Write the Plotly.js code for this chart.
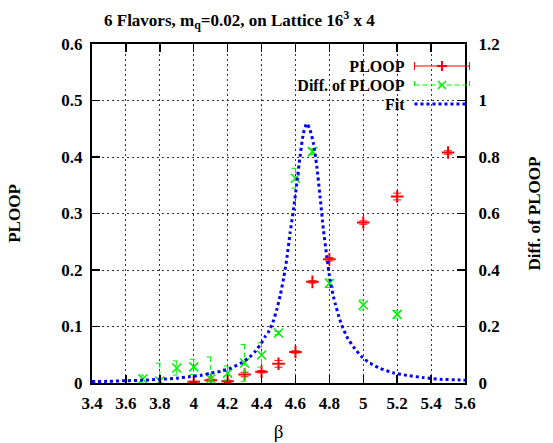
<!DOCTYPE html>
<html>
<head>
<meta charset="utf-8">
<script src="https://cdn.plot.ly/plotly-3.0.1.min.js"></script>
<style>
html,body{margin:0;padding:0;background:#fff;}
#chart{width:553px;height:443px;}
</style>
</head>
<body>
<div id="chart"></div>
<script>
// PLOOP (left axis)
const betaPloop = [4.0, 4.1, 4.2, 4.3, 4.4, 4.5, 4.6, 4.7, 4.8, 5.0, 5.2, 5.5];
const ploop     = [0.002, 0.005, 0.003, 0.015, 0.020, 0.034, 0.055, 0.179, 0.219, 0.284, 0.330, 0.408];
const ploopErr  = [0.001, 0.002, 0.002, 0.004, 0.002, 0.006, 0.002, 0.002, 0.003, 0.003, 0.006, 0.003];

// Diff. of PLOOP (right axis)
const betaDiff = [3.7, 3.8, 3.9, 4.0, 4.1, 4.2, 4.3, 4.4, 4.5, 4.6, 4.7, 4.8, 5.0, 5.2];
const diff     = [0.014, 0.007, 0.053, 0.057, 0.014, 0.035, 0.071, 0.099, 0.177, 0.725, 0.819, 0.353, 0.276, 0.243];
const diffErr  = [0.014, 0.063, 0.025, 0.027, 0.078, 0.025, 0.065, 0.043, 0.006, 0.035, 0.010, 0.015, 0.018, 0.013];

// Fit (right axis)
const betaFit = [3.40, 3.50, 3.60, 3.70, 3.80, 3.90, 3.97, 4.05, 4.10, 4.165, 4.22, 4.28, 4.33, 4.36, 4.40, 4.42, 4.44, 4.46, 4.47,
                 4.49, 4.51, 4.53, 4.55, 4.568, 4.588, 4.608, 4.627, 4.647, 4.667, 4.686, 4.706, 4.726, 4.745, 4.765, 4.785, 4.804,
                 4.824, 4.834, 4.853, 4.873, 4.903, 4.942, 4.991, 5.04, 5.099, 5.178, 5.257, 5.355, 5.453, 5.571, 5.60];
const fitVals = [0.005, 0.006, 0.008, 0.010, 0.013, 0.017, 0.022, 0.028, 0.035, 0.042, 0.053, 0.071, 0.092, 0.110, 0.142, 0.163, 0.180, 0.205, 0.220,
                 0.260, 0.310, 0.370, 0.445, 0.530, 0.612, 0.707, 0.801, 0.884, 0.919, 0.896, 0.848, 0.766, 0.660, 0.542, 0.447, 0.365,
                 0.306, 0.282, 0.241, 0.205, 0.164, 0.128, 0.093, 0.070, 0.052, 0.036, 0.027, 0.019, 0.013, 0.011, 0.010];

const seriesNames = ['PLOOP', 'Diff. of PLOOP', 'Fit'];
const titleText = '<b>6 Flavors, m<sub>q</sub>=0.02, on Lattice 16<sup>3</sup> x 4</b>';

const SERIF = 'Liberation Serif, Times New Roman, serif';
const RED = '#ff0000', GREEN = '#00ee00', BLUE = '#0000ff';

const traces = [
  {
    x: betaPloop, y: ploop, yaxis: 'y', type: 'scatter', mode: 'markers', name: seriesNames[0],
    marker: {symbol: 'cross-thin', size: 9, color: RED, line: {color: RED, width: 2}},
    error_y: {type: 'data', array: ploopErr, visible: true, color: RED, thickness: 1, width: 4}
  },
  {
    x: betaDiff, y: diff, yaxis: 'y2', type: 'scatter', mode: 'markers', name: seriesNames[1],
    marker: {symbol: 'x-thin', size: 9, color: GREEN, line: {color: GREEN, width: 1.5}},
    error_y: {type: 'data', array: diffErr, visible: true, color: GREEN, thickness: 1, width: 4}
  },
  {
    x: betaFit, y: fitVals, yaxis: 'y2', type: 'scatter', mode: 'lines', name: seriesNames[2],
    line: {color: BLUE, width: 3, dash: 'dot', shape: 'spline', smoothing: 0.6}
  }
];

const axisCommon = {
  showline: true, linecolor: '#000', linewidth: 2,
  ticks: 'inside', ticklen: 8, tickwidth: 1.5, tickcolor: '#000',
  zeroline: false,
  tickfont: {family: SERIF, size: 17, color: '#000', weight: 'bold'}
};

const layout = {
  width: 553, height: 443,
  margin: {l: 92, r: 88, t: 44, b: 60, pad: 0},
  paper_bgcolor: '#fff', plot_bgcolor: '#fff',
  font: {family: SERIF, color: '#000'},
  title: {
    text: titleText, font: {family: SERIF, size: 17, color: '#000'},
    x: 0.395, xref: 'paper', xanchor: 'center',
    y: 0.955, yref: 'container', yanchor: 'middle'
  },
  xaxis: Object.assign({}, axisCommon, {
    range: [3.4, 5.6], dtick: 0.2, tick0: 3.4, mirror: 'ticks',
    showgrid: true, gridcolor: '#333', gridwidth: 1, griddash: '2px,3px',
    ticklabelstandoff: 4,
    title: {text: 'β', font: {family: SERIF, size: 19, color: '#000'}, standoff: 12}
  }),
  yaxis: Object.assign({}, axisCommon, {
    range: [0, 0.6], dtick: 0.1, tick0: 0,
    showgrid: true, gridcolor: '#333', gridwidth: 1, griddash: '2px,3px',
    ticklabelstandoff: 4,
    title: {text: '<b>PLOOP</b>', font: {family: SERIF, size: 17, color: '#000'}, standoff: 36}
  }),
  yaxis2: Object.assign({}, axisCommon, {
    range: [0, 1.2], dtick: 0.2, tick0: 0, overlaying: 'y', side: 'right',
    showgrid: false, ticklabelstandoff: 8,
    title: {text: '<b>Diff. of PLOOP</b>', font: {family: SERIF, size: 17, color: '#000'}, standoff: 29}
  }),
  showlegend: true,
  legend: {
    x: 0.55, y: 0.985, xanchor: 'left', yanchor: 'top',
    bgcolor: 'rgba(0,0,0,0)', borderwidth: 0,
    font: {family: SERIF, size: 16, color: '#000', weight: 'bold'},
    tracegroupgap: 0
  }
};

Plotly.newPlot('chart', traces, layout, {displayModeBar: false, staticPlot: true}).then(gd => {
  // gnuplot-style key: right-aligned text, then the sample to its right
  const NS = 'http://www.w3.org/2000/svg';
  const scroll = gd.querySelector('.legend .scrollbox');
  if (scroll) scroll.removeAttribute('clip-path');
  const items = [...gd.querySelectorAll('.legend .traces')];
  const texts = items.map(tr => tr.querySelector('.legendtext'));
  const maxW = Math.max(...texts.map(t => t.getBBox().width));
  const colors = [RED, GREEN, BLUE];
  const m0 = /translate\(\s*([-\d.e]+)[\s,]+([-\d.e]+)\s*\)/.exec(items[0].getAttribute('transform') || '');
  const x0 = m0 ? parseFloat(m0[1]) : 0, y0 = m0 ? parseFloat(m0[2]) : 0;
  const ROW = 19;
  const samples = [
    ['M0,0h55M0,-4v8M55,-4v8', 1, '', 'M22.5,0h10M27.5,-5v10', 2],
    ['M0,0h55M0,-4v8M55,-4v8', 1, '5,3', 'M23.5,-4l8,8M23.5,4l8,-8', 1.5],
    ['M0,0h52', 3, '3,3', '', 0]
  ];
  items.forEach((tr, i) => {
    tr.setAttribute('transform', 'translate(' + x0 + ',' + (y0 + i * ROW) + ')');
    const t = texts[i];
    t.setAttribute('text-anchor', 'end');
    t.setAttribute('x', maxW);
    t.querySelectorAll('tspan[x]').forEach(s => s.setAttribute('x', maxW));
    // hide the library's default symbols for this item
    [...tr.children].forEach(c => { if (c !== t && c.tagName.toLowerCase() === 'g') c.style.display = 'none'; });
    const g = document.createElementNS(NS, 'g');
    g.setAttribute('transform', 'translate(' + (maxW + 10) + ',0)');
    tr.appendChild(g);
    const s = samples[i];
    const p = document.createElementNS(NS, 'path');
    p.setAttribute('d', s[0]);
    p.setAttribute('style', 'fill:none;stroke:' + colors[i] + ';stroke-width:' + s[1] + (s[2] ? ';stroke-dasharray:' + s[2] : ''));
    g.appendChild(p);
    if (s[3]) {
      const q = document.createElementNS(NS, 'path');
      q.setAttribute('d', s[3]);
      q.setAttribute('style', 'fill:none;stroke:' + colors[i] + ';stroke-width:' + s[4]);
      g.appendChild(q);
    }
  });
  // dashed error bars for the difference series
  const tr2 = gd.querySelectorAll('.scatterlayer .trace')[1];
  if (tr2) tr2.querySelectorAll('.errorbar path').forEach(p => p.style.strokeDasharray = '5,3');
});
</script>
</body>
</html>
